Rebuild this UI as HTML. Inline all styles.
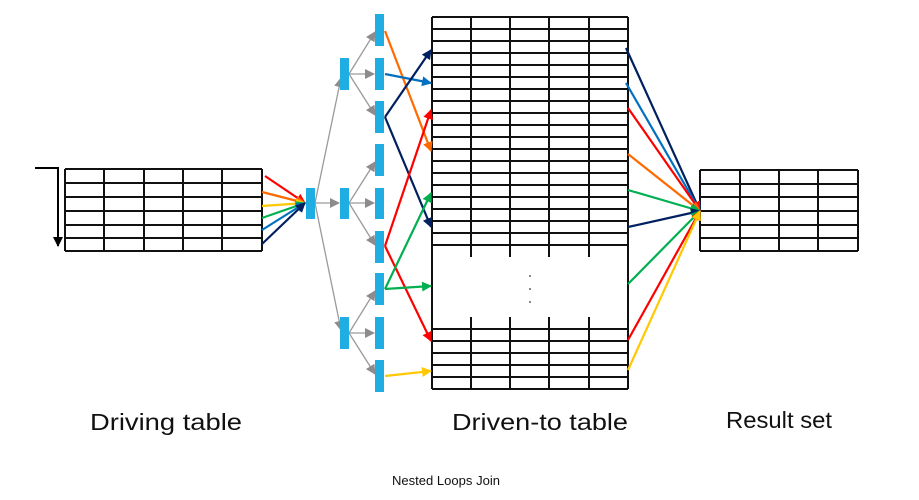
<!DOCTYPE html>
<html><head><meta charset="utf-8"><style>
html,body{margin:0;padding:0;background:#fff;}
svg{display:block;}
text{font-family:"Liberation Sans",sans-serif;}
</style></head><body>
<svg width="919" height="500" viewBox="0 0 919 500" xmlns="http://www.w3.org/2000/svg">
<defs>
<marker id="mk" viewBox="0 0 10 10" refX="9" refY="5" markerWidth="10" markerHeight="10" markerUnits="userSpaceOnUse" orient="auto"><path d="M0,0L10,5L0,10z" fill="#000"/></marker>
<marker id="mg" viewBox="0 0 10 10" refX="9" refY="5" markerWidth="10" markerHeight="10" markerUnits="userSpaceOnUse" orient="auto"><path d="M0,0L10,5L0,10z" fill="#8c8c8c"/></marker>
<marker id="mr" viewBox="0 0 10 10" refX="9" refY="5" markerWidth="10" markerHeight="10" markerUnits="userSpaceOnUse" orient="auto"><path d="M0,0L10,5L0,10z" fill="#ff0000"/></marker>
<marker id="mo" viewBox="0 0 10 10" refX="9" refY="5" markerWidth="10" markerHeight="10" markerUnits="userSpaceOnUse" orient="auto"><path d="M0,0L10,5L0,10z" fill="#ff6a00"/></marker>
<marker id="my" viewBox="0 0 10 10" refX="9" refY="5" markerWidth="10" markerHeight="10" markerUnits="userSpaceOnUse" orient="auto"><path d="M0,0L10,5L0,10z" fill="#ffc800"/></marker>
<marker id="mgr" viewBox="0 0 10 10" refX="9" refY="5" markerWidth="10" markerHeight="10" markerUnits="userSpaceOnUse" orient="auto"><path d="M0,0L10,5L0,10z" fill="#00b050"/></marker>
<marker id="mb" viewBox="0 0 10 10" refX="9" refY="5" markerWidth="10" markerHeight="10" markerUnits="userSpaceOnUse" orient="auto"><path d="M0,0L10,5L0,10z" fill="#0070c0"/></marker>
<marker id="mn" viewBox="0 0 10 10" refX="9" refY="5" markerWidth="10" markerHeight="10" markerUnits="userSpaceOnUse" orient="auto"><path d="M0,0L10,5L0,10z" fill="#002060"/></marker>
</defs>

<!-- Driving table -->
<g stroke="#111" stroke-width="2" fill="none">
<path d="M65,169H262M65,183H262M65,197H262M65,211H262M65,225H262M65,238H262M65,251H262"/>
<path d="M65,169V251M104,169V251M144,169V251M183,169V251M222,169V251M262,169V251"/>
</g>
<path d="M35,168H58V246" stroke="#000" stroke-width="2" fill="none" marker-end="url(#mk)"/>

<!-- Result table -->
<g stroke="#111" stroke-width="2" fill="none">
<path d="M700,170H858M700,184H858M700,197H858M700,211H858M700,225H858M700,238H858M700,251H858"/>
<path d="M700,170V251M740,170V251M779,170V251M818,170V251M858,170V251"/>
</g>

<!-- Driven table -->
<g stroke="#111" stroke-width="2" fill="none">
<path d="M432,17H628M432,29H628M432,41H628M432,53H628M432,65H628M432,77H628M432,89H628M432,101H628M432,113H628M432,125H628M432,137H628M432,149H628M432,161H628M432,173H628M432,185H628M432,197H628M432,209H628M432,221H628M432,233H628M432,245H628"/>
<path d="M432,329H628M432,341H628M432,353H628M432,365H628M432,377H628M432,389H628"/>
<path d="M432,17V389M628,17V389"/>
<path d="M471,17V257M510,17V257M549,17V257M589,17V257"/>
<path d="M471,317V389M510,317V389M549,317V389M589,317V389"/>
</g>
<circle cx="530" cy="276" r="0.9" fill="#333"/><circle cx="530" cy="289" r="0.9" fill="#333"/><circle cx="530" cy="302" r="0.9" fill="#333"/>

<!-- Gray tree lines -->
<g stroke="#9a9a9a" stroke-width="1.3" fill="none" marker-end="url(#mg)">
<path d="M315,203L341,78"/><path d="M315,203L339,203"/><path d="M315,203L341,330"/>
<path d="M349,74L375,32"/><path d="M349,74L374,74"/><path d="M349,74L375,115"/>
<path d="M349,203L375,162"/><path d="M349,203L374,203"/><path d="M349,203L375,245"/>
<path d="M349,333L375,291"/><path d="M349,333L374,333"/><path d="M349,333L375,374"/>
</g>

<!-- Blue bars -->
<g fill="#1fade4">
<rect x="306" y="188" width="9" height="31"/>
<rect x="340" y="58" width="9" height="32"/><rect x="340" y="188" width="9" height="31"/><rect x="340" y="317" width="9" height="32"/>
<rect x="375" y="14" width="9" height="32"/><rect x="375" y="58" width="9" height="32"/><rect x="375" y="101" width="9" height="32"/>
<rect x="375" y="144" width="9" height="32"/><rect x="375" y="188" width="9" height="31"/><rect x="375" y="231" width="9" height="32"/>
<rect x="375" y="273" width="9" height="32"/><rect x="375" y="317" width="9" height="32"/><rect x="375" y="360" width="9" height="32"/>
</g>

<!-- Driving -> level0 -->
<g stroke-width="2.2" fill="none">
<path d="M265,176L305,203" stroke="#ff0000" marker-end="url(#mr)"/>
<path d="M262,192L305,203" stroke="#ff6a00" marker-end="url(#mo)"/>
<path d="M262,206L305,203" stroke="#ffc800" marker-end="url(#my)"/>
<path d="M262,218L305,203" stroke="#00b050" marker-end="url(#mgr)"/>
<path d="M262,230L305,203" stroke="#0070c0" marker-end="url(#mb)"/>
<path d="M262,244L305,203" stroke="#002060" marker-end="url(#mn)"/>
</g>

<!-- Level2 -> driven table -->
<g stroke-width="2.2" fill="none">
<path d="M385,31L431,151" stroke="#ff6a00" marker-end="url(#mo)"/>
<path d="M385,74L431,83" stroke="#0070c0" marker-end="url(#mb)"/>
<path d="M385,117L431,50" stroke="#002060" marker-end="url(#mn)"/>
<path d="M385,117L431,227" stroke="#002060" marker-end="url(#mn)"/>
<path d="M385,246L431,110" stroke="#ff0000" marker-end="url(#mr)"/>
<path d="M385,246L431,341" stroke="#ff0000" marker-end="url(#mr)"/>
<path d="M385,289L431,193" stroke="#00b050" marker-end="url(#mgr)"/>
<path d="M385,289L431,286" stroke="#00b050" marker-end="url(#mgr)"/>
<path d="M385,376L431,371" stroke="#ffc800" marker-end="url(#my)"/>
</g>

<!-- Driven table -> result -->
<g stroke-width="2.2" fill="none">
<path d="M626,48L700,211" stroke="#002060" marker-end="url(#mn)"/>
<path d="M626,83L700,211" stroke="#0070c0" marker-end="url(#mb)"/>
<path d="M628,108L700,211" stroke="#ff0000" marker-end="url(#mr)"/>
<path d="M628,154L700,211" stroke="#ff6a00" marker-end="url(#mo)"/>
<path d="M628,190L700,211" stroke="#00b050" marker-end="url(#mgr)"/>
<path d="M628,227L700,211" stroke="#002060" marker-end="url(#mn)"/>
<path d="M628,284L700,211" stroke="#00b050" marker-end="url(#mgr)"/>
<path d="M628,340L700,211" stroke="#ff0000" marker-end="url(#mr)"/>
<path d="M628,370L700,211" stroke="#ffc800" marker-end="url(#my)"/>
</g>

<!-- Labels -->
<text x="90" y="430" font-size="23" fill="#111" textLength="152" lengthAdjust="spacingAndGlyphs">Driving table</text>
<text x="452" y="430" font-size="23" fill="#111" textLength="176" lengthAdjust="spacingAndGlyphs">Driven-to table</text>
<text x="726" y="428" font-size="23" fill="#111" textLength="106" lengthAdjust="spacingAndGlyphs">Result set</text>
<text x="392" y="485" font-size="13" fill="#111" textLength="108" lengthAdjust="spacingAndGlyphs">Nested Loops Join</text>
</svg>
</body></html>
